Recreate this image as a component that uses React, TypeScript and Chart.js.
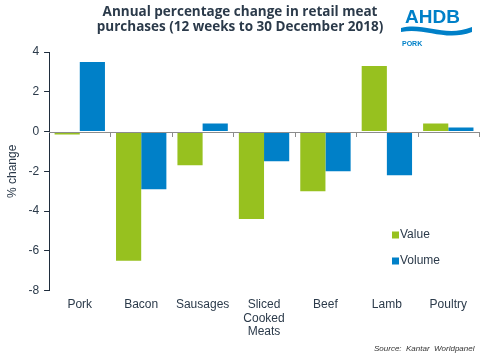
import React, { useEffect, useRef } from "react";
import { Chart, registerables } from "chart.js";

Chart.register(...registerables);

const categories: (string | string[])[] = ["Pork", "Bacon", "Sausages", ["Sliced", "Cooked", "Meats"], "Beef", "Lamb", "Poultry"];
const valueSeries = [-0.15, -6.5, -1.7, -4.4, -3.0, 3.3, 0.4];
const volumeSeries = [3.5, -2.9, 0.4, -1.5, -2.0, -2.2, 0.2];
const seriesNames = ["Value", "Volume"];
const titleLines = ["Annual percentage change in retail meat", "purchases (12 weeks to 30 December 2018)"];
const sourceText = "Source:  Kantar  Worldpanel";
const yTitle = "% change";

const GREEN = "#97C11F";
const BLUE = "#0080C8";

const decorPlugin = {
  id: "decor",
  afterDatasetsDraw(chart: any) {
    const { ctx, chartArea, scales } = chart;
    const y0 = scales.y.getPixelForValue(0);
    ctx.save();
    ctx.strokeStyle = "#8c8c8c";
    ctx.lineWidth = 1;
    ctx.beginPath();
    ctx.moveTo(chartArea.left, Math.round(y0) + 0.5);
    ctx.lineTo(chartArea.right, Math.round(y0) + 0.5);
    ctx.stroke();
    const n = categories.length;
    const w = (chartArea.right - chartArea.left) / n;
    for (let i = 1; i <= n; i++) {
      const x = Math.round(chartArea.left + i * w) + 0.5;
      ctx.beginPath();
      ctx.moveTo(x, Math.round(y0));
      ctx.lineTo(x, Math.round(y0) + 5);
      ctx.stroke();
    }
    ctx.restore();
  },
  afterDraw(chart: any) {
    const { ctx } = chart;
    ctx.save();
    ctx.fillStyle = "#2b3a4a";
    ctx.font = "bold 13.5px 'Open Sans', 'DejaVu Sans', sans-serif";
    ctx.textAlign = "center";
    ctx.textBaseline = "middle";
    ctx.fillText(titleLines[0], 240, 12);
    ctx.fillText(titleLines[1], 240, 27);
    ctx.fillStyle = BLUE;
    ctx.font = "bold 19px 'Liberation Sans', Arial, sans-serif";
    ctx.textAlign = "left";
    ctx.textBaseline = "alphabetic";
    ctx.fillText("AHDB", 405, 23);
    ctx.beginPath();
    ctx.moveTo(401, 28);
    ctx.bezierCurveTo(425, 22, 445, 38, 472, 27);
    ctx.lineTo(472, 32);
    ctx.bezierCurveTo(445, 42, 425, 27, 401, 32);
    ctx.closePath();
    ctx.fill();
    ctx.font = "bold 7px 'Liberation Sans', Arial, sans-serif";
    ctx.fillText("PORK", 402, 46);
    const items = [
      { label: seriesNames[0], color: GREEN, y: 235 },
      { label: seriesNames[1], color: BLUE, y: 261 },
    ];
    ctx.font = "12px 'Liberation Sans', Arial, sans-serif";
    ctx.textBaseline = "middle";
    for (const it of items) {
      ctx.fillStyle = it.color;
      ctx.fillRect(392, it.y - 3.5, 7, 7);
      ctx.fillStyle = "#2b3a4a";
      ctx.fillText(it.label, 400, it.y);
    }
    ctx.font = "italic 8px 'Liberation Sans', Arial, sans-serif";
    ctx.fillStyle = "#333";
    ctx.textAlign = "left";
    ctx.fillText(sourceText, 374, 349);
    ctx.restore();
  },
};

export default function App() {
  const ref = useRef<HTMLCanvasElement>(null);
  useEffect(() => {
    document.body.style.margin = "0";
    const chart = new Chart(ref.current!, {
      type: "bar",
      data: {
        labels: categories,
        datasets: [
          { label: seriesNames[0], data: valueSeries, backgroundColor: GREEN, categoryPercentage: 0.82, barPercentage: 1 },
          { label: seriesNames[1], data: volumeSeries, backgroundColor: BLUE, categoryPercentage: 0.82, barPercentage: 1 },
        ],
      },
      options: {
        animation: false,
        responsive: false,
        maintainAspectRatio: false,
        layout: { padding: { top: 52, right: 1, bottom: 22, left: 5 } },
        plugins: { legend: { display: false }, tooltip: { enabled: false }, title: { display: false } },
        scales: {
          x: {
            grid: { display: false },
            border: { display: false },
            ticks: {
              color: "#2b3a4a",
              font: { family: "'Liberation Sans', Arial, sans-serif", size: 12, lineHeight: 1.15 },
              maxRotation: 0,
              autoSkip: false,
              padding: -1,
            },
          },
          y: {
            min: -8,
            max: 4,
            ticks: {
              stepSize: 2,
              color: "#2b3a4a",
              font: { family: "'Liberation Sans', Arial, sans-serif", size: 12 },
              padding: 5,
            },
            grid: { drawOnChartArea: false, tickLength: 5, tickColor: "#1f2d3d" },
            border: { display: true, color: "#1f2d3d", width: 1 },
            title: {
              display: true,
              text: yTitle,
              color: "#2b3a4a",
              font: { family: "'Liberation Sans', Arial, sans-serif", size: 12 },
              padding: { top: 0, bottom: 4 },
            },
          },
        },
      },
      plugins: [decorPlugin],
    });
    return () => chart.destroy();
  }, []);
  return (
    <div style={{ width: 480, height: 360 }}>
      <canvas ref={ref} width={480} height={360} style={{ display: "block" }} />
    </div>
  );
}
